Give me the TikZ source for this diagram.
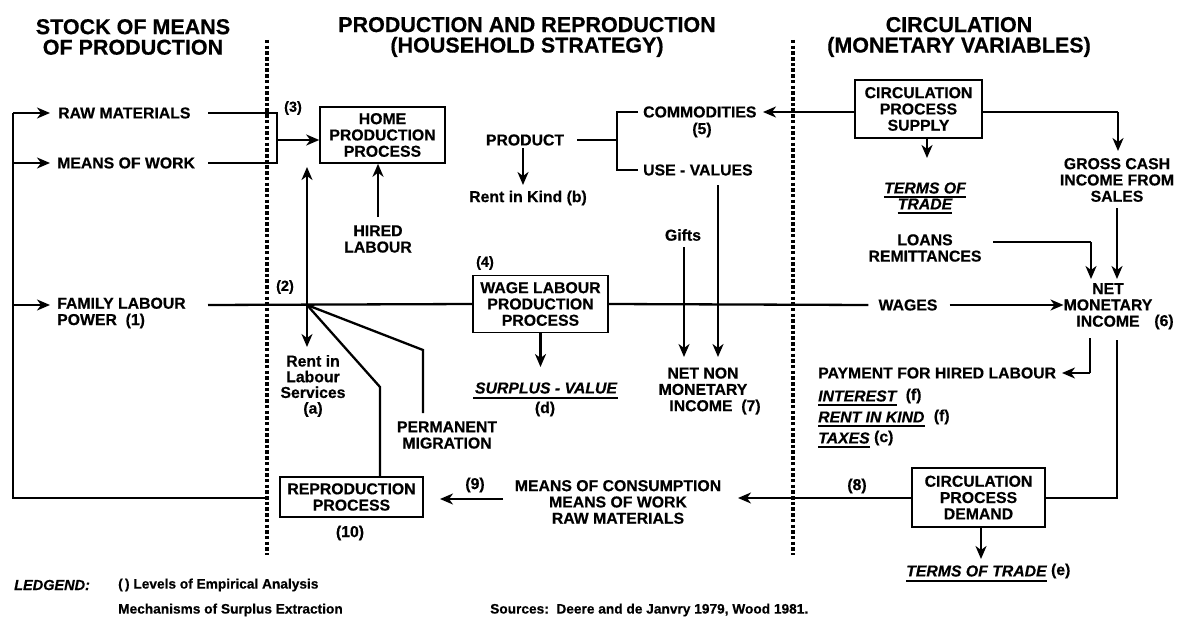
\documentclass[tikz,border=0pt]{standalone}
\usepackage{fontspec}
\setmainfont{Liberation Sans}[BoldFeatures={FakeBold=0.5},BoldItalicFeatures={FakeBold=0.5}]
\usetikzlibrary{arrows.meta}
\begin{document}
\begin{tikzpicture}[x=1pt,y=-1pt,
  lbl/.style={font=\bfseries\fontsize{15.8}{16.3}\selectfont, inner sep=0pt, align=center},
  ital/.style={font=\bfseries\itshape\fontsize{15.8}{16.3}\selectfont, inner sep=0pt, align=center},
  hdr/.style={font=\bfseries\fontsize{21.5}{20.5}\selectfont, inner sep=0pt, align=center},
  lgd/.style={font=\bfseries\fontsize{13.7}{14}\selectfont, inner sep=0pt, anchor=west},
  box/.style={draw, line width=1.6pt, font=\bfseries\fontsize{15.8}{16.3}\selectfont, align=center, inner sep=0pt},
  ln/.style={line width=2.3pt},
  ul/.style={line width=2pt},
  arr/.style={line width=2.3pt, -{Stealth[length=13pt,width=11pt,inset=4pt]}},
  dots/.style={line width=3.2pt, dash pattern=on 3.5pt off 2.2pt},
]
\useasboundingbox (0,0) rectangle (1181,618);

% headers
\node[hdr] (h1) at (133,37) {STOCK OF MEANS\\OF PRODUCTION};
\node[hdr] (h2) at (527,37) {PRODUCTION AND REPRODUCTION\\(HOUSEHOLD STRATEGY)};
\node[hdr] (h3) at (959,37) {CIRCULATION\\(MONETARY VARIABLES)};

% dotted separators
\coordinate (d1t) at (267,40); \coordinate (d1b) at (267,555);
\coordinate (d2t) at (793,40); \coordinate (d2b) at (793,555);
\draw[dots] (d1t) -- (d1b);
\draw[dots] (d2t) -- (d2b);

% left column
\node[lbl, anchor=west] (raw) at (58,113) {RAW MATERIALS};
\node[lbl, anchor=west] (mow) at (57,163) {MEANS OF WORK};
\node[lbl, anchor=west, align=left] (flp) at (57,313) {FAMILY LABOUR\\POWER\ \ (1)};
\coordinate (L1) at (13,113); \coordinate (L2) at (13,163);
\coordinate (L3) at (13,305); \coordinate (L4) at (13,498);
\coordinate (L5) at (265,498);
\coordinate (rawT) at (50,113); \coordinate (mowT) at (50,163); \coordinate (flpT) at (50,305);
\draw[ln] (L5) -- (L4) -- (L1);
\draw[arr] (L1) -- (rawT);
\draw[arr] (L2) -- (mowT);
\draw[arr] (L3) -- (flpT);

% home production
\node[box, minimum width=125pt, minimum height=56pt] (home) at (382.5,135) {HOME\\PRODUCTION\\PROCESS};
\coordinate (rawE) at (208,113); \coordinate (mowE) at (208,163);
\coordinate (b1) at (277,113); \coordinate (b2) at (277,163); \coordinate (b3) at (277,140);
\draw[ln] (rawE) -- (b1) -- (b2) -- (mowE);
\draw[arr] (b3) -- (home.west |- b3);
\node[lbl, font=\bfseries\fontsize{14.5}{15}\selectfont] (n3) at (293,108) {(3)};
\node[lbl] (hired) at (378,239) {HIRED\\LABOUR};
\coordinate (hiredT) at (378,217);
\draw[arr] (hiredT) -- (hiredT |- home.south);

% labour junction
\coordinate (J) at (307,305);
\coordinate (Jup) at (307,167);
\coordinate (Jdn) at (307,347);
\coordinate (flpE) at (208,305);
\node[lbl, font=\bfseries\fontsize{14.5}{15}\selectfont] (n2) at (285,287) {(2)};
\draw[arr] (J) -- (Jup);
\draw[arr] (J) -- (Jdn);
\node[lbl, font=\bfseries\fontsize{15.8}{15.7}\selectfont] (rls) at (313,386) {Rent in\\Labour\\Services\\(a)};
\node[box, minimum width=143pt, minimum height=40pt] (repro) at (351.5,497) {REPRODUCTION\\PROCESS};
\node[lbl] (n10) at (350,533) {(10)};
\coordinate (k1) at (380,387);
\coordinate (k2) at (423,350); \coordinate (k3) at (423,413);
\draw[ln] (J) -- (k1) -- (k1 |- repro.north);
\draw[ln] (J) -- (k2) -- (k3);
\node[lbl] (pm) at (447,435) {PERMANENT\\MIGRATION};

% wage labour
\node[box, minimum width=135pt, minimum height=57pt] (wage) at (540.5,304) {WAGE LABOUR\\PRODUCTION\\PROCESS};
\node[lbl, font=\bfseries\fontsize{14.5}{15}\selectfont] (n4) at (485,263) {(4)};
\draw[ln] (flpE) -- (wage.west);
\coordinate (svT) at (540.5,367);
\draw[arr] (wage.south) -- (svT);
\node[ital] (sv) at (546,388) {SURPLUS - VALUE};
\draw[ul] (473,398) -- (618,398);
\node[lbl] (nd) at (545,409) {(d)};

% product
\node[lbl] (prod) at (525,140) {PRODUCT};
\coordinate (prodA) at (523,148); \coordinate (prodB) at (523,185);
\draw[arr] (prodA) -- (prodB);
\node[lbl] (rik) at (528,198) {Rent in Kind (b)};
\coordinate (pE) at (577,140); \coordinate (pJ) at (617,140);
\coordinate (pT) at (617,112); \coordinate (pB) at (617,170);
\node[lbl, anchor=west] (com) at (643,112) {COMMODITIES};
\node[lbl] (n5) at (702,130) {(5)};
\node[lbl, anchor=west] (uv) at (643,170) {USE - VALUES};
\draw[ln] (pE) -- (pJ);
\draw[ln] ([xshift=-5pt]com.west) -- (pT) -- (pB) -- ([xshift=-5pt]uv.west);

% gifts / non monetary
\node[lbl] (gifts) at (683,235) {Gifts};
\node[lbl] (nnmi) at (703,391) {NET NON\\MONETARY\\\hspace*{24pt}INCOME\ \ (7)};
\coordinate (gA) at (684,247); \coordinate (gB) at (684,357);
\coordinate (uA) at (718,185); \coordinate (uB) at (718,357);
\draw[arr] (gA) -- (gB);
\draw[arr] (uA) -- (uB);

% circulation supply
\node[box, minimum width=127pt, minimum height=58pt] (supply) at (918.5,109) {CIRCULATION\\PROCESS\\SUPPLY};
\coordinate (comT) at (763,112);
\draw[arr] (supply.west |- comT) -- (comT);
\coordinate (sA) at (927,138); \coordinate (sB) at (927,158);
\draw[arr] (sA) -- (sB);
\node[ital] (tot1) at (925,188) {TERMS OF};
\node[ital] (tot2) at (925,204) {TRADE};
\draw[ul] ([yshift=-3pt]tot1.south west) -- ([yshift=-3pt]tot1.south east);
\draw[ul] ([yshift=-3pt]tot2.south west) -- ([yshift=-3pt]tot2.south east);
\coordinate (gc1) at (1118,112); \coordinate (gc2) at (1118,151);
\draw[ln] (supply.east |- gc1) -- (gc1);
\draw[arr] (gc1) -- (gc2);
\node[lbl] (gcis) at (1117,180) {GROSS CASH\\INCOME FROM\\SALES};
\coordinate (gc3) at (1117,208); \coordinate (gc4) at (1117,279);
\draw[arr] (gc3) -- (gc4);
\node[lbl] (loans) at (925,248) {LOANS\\REMITTANCES};
\coordinate (lo1) at (993,242); \coordinate (lo2) at (1091,242); \coordinate (lo3) at (1091,279);
\draw[ln] (lo1) -- (lo2);
\draw[arr] (lo2) -- (lo3);

% net monetary income
\node[lbl] (nmi) at (1108,305) {NET\\MONETARY\\INCOME};
\node[lbl] (n6) at (1164,322) {(6)};
\node[lbl] (wages) at (908,305) {WAGES};
\draw[ln] (wage.east) -- ([xshift=-10pt]wages.west);
\draw[arr] ([xshift=12pt]wages.east) -- (nmi.west);

% payments
\coordinate (pa1) at (1090,338); \coordinate (pa2) at (1090,373); \coordinate (pa3) at (1062,373);
\draw[ln] (pa1) -- (pa2);
\draw[arr] (pa2) -- (pa3);
\node[lbl, anchor=west] (pay) at (818,373) {PAYMENT FOR HIRED LABOUR};
\node[ital, anchor=west] (int) at (818,396) {INTEREST};
\node[lbl, anchor=west] (intf) at ([xshift=9pt]int.east) {(f)};
\node[ital, anchor=west] (rk) at (818,417) {RENT IN KIND};
\node[lbl, anchor=west] (rkf) at ([xshift=9pt]rk.east) {(f)};
\node[ital, anchor=west] (tax) at (818,438) {TAXES};
\node[lbl, anchor=west] (taxc) at ([xshift=4pt]tax.east) {(c)};
\draw[ul] ([yshift=-3pt]int.south west) -- ([yshift=-3pt]int.south east);
\draw[ul] ([yshift=-3pt]rk.south west) -- ([yshift=-3pt]rk.south east);
\draw[ul] ([yshift=-3pt]tax.south west) -- ([yshift=-3pt]tax.south east);

% circulation demand
\node[box, minimum width=133pt, minimum height=59pt] (demand) at (978.5,497.5) {CIRCULATION\\PROCESS\\DEMAND};
\coordinate (nd1) at (1117,340); \coordinate (nd2) at (1117,498);
\draw[ln] (nd1) -- (nd2) -- (demand.east |- nd2);
\coordinate (m8) at (738,498);
\draw[arr] (demand.west |- m8) -- (m8);
\node[lbl] (n8) at (857,486) {(8)};
\coordinate (dB) at (981,559);
\draw[arr] (demand.south -| dB) -- (dB);
\node[ital, anchor=west] (tot3) at (906,571) {TERMS OF TRADE};
\node[lbl, anchor=west] (tote) at ([xshift=4pt]tot3.east) {(e)};
\draw[ul] ([yshift=-4pt]tot3.south west) -- ([yshift=-4pt]tot3.south east);

% means of consumption
\node[lbl] (moc) at (618,502) {MEANS OF CONSUMPTION\\MEANS OF WORK\\RAW MATERIALS};
\coordinate (m9a) at (503,499); \coordinate (m9b) at (440,499);
\draw[arr] (m9a) -- (m9b);
\node[lbl] (n9) at (475,485) {(9)};

% legend
\node[lgd, font=\bfseries\itshape\fontsize{14.5}{15}\selectfont] (leg) at (14,585) {LEDGEND:};
\node[lgd] (leg1) at (118,585) {(\,) Levels of Empirical Analysis};
\node[lgd] (leg2) at (118,610) {Mechanisms of Surplus Extraction};
\node[lgd] (src) at (490,610) {Sources:\ \ Deere and de Janvry 1979, Wood 1981.};
\end{tikzpicture}
\end{document}
